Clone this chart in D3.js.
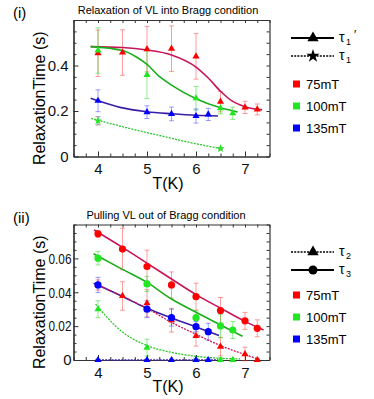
<!DOCTYPE html>
<html>
<head>
<meta charset="utf-8">
<script src="https://cdn.jsdelivr.net/npm/d3@7"></script>
<style>
  body { margin: 0; background: #fff; }
  svg { font-family: "Liberation Sans", Arial, sans-serif; }
  .axis path, .axis line { stroke: #333; }
  .axis text { font-size: 15px; fill: #111; }
</style>
</head>
<body>
<svg id="chart" width="374" height="399"></svg>
<script>
// ---- data ----
const xTicks = [4, 5, 6, 7];
const yTicksI = [0, 0.2, 0.4];
const yTicksII = [0, 0.02, 0.04, 0.06];
const fields = ["75mT", "100mT", "135mT"];

// panel (i): tau1' measurements [T, value, error]
const tau1p75 = [[4, 0.454, 0.102], [4.5, 0.457, 0.1], [5, 0.472, 0.1], [5.5, 0.474, 0.1],
                 [6, 0.44, 0.1], [6.5, 0.241, 0.045], [7, 0.216, 0.027], [7.25, 0.207, 0.024]];
const tau1p100 = [[4, 0.466, 0.1], [5, 0.359, 0.105], [6, 0.256, 0.052], [6.5, 0.212, 0.025], [6.75, 0.19, 0.027]];
const tau1p135 = [[4, 0.245, 0.048], [5, 0.195, 0.028], [5.5, 0.187, 0.03], [6, 0.178, 0.031], [6.25, 0.185, 0.027]];
// panel (i): tau1 measurements (100mT)
const tau1_100 = [[4, 0.157, 0.018], [6.5, 0.035, 0.005]];
// panel (i): fitted curves [T, value]
const fitI75 = [[3.85, 0.483], [4.5, 0.479], [5, 0.468], [5.5, 0.446], [6, 0.393], [6.25, 0.345],
                [6.5, 0.287], [6.75, 0.242], [7, 0.219], [7.35, 0.205]];
const fitI100 = [[3.85, 0.483], [4.5, 0.466], [4.8, 0.435], [5, 0.405], [5.25, 0.352], [5.5, 0.314],
                 [6, 0.254], [6.5, 0.214], [6.85, 0.196]];
const fitI135 = [[3.85, 0.256], [4, 0.245], [4.45, 0.216], [5, 0.197], [5.5, 0.188], [6, 0.181], [6.45, 0.178]];
const fitTau1 = [[3.86, 0.168], [4.5, 0.131], [5.2, 0.095], [5.8, 0.065], [6.5, 0.035]];

// panel (ii): tau3 measurements [T, value, error]
const tau3_75 = [[4, 0.0745, 0.002], [4.5, 0.0655, 0.0123], [5, 0.0552, 0.0097], [5.5, 0.0443, 0.0077],
                 [6, 0.0374, 0.008], [6.5, 0.0292, 0.0077], [7, 0.0231, 0.005], [7.25, 0.0187, 0.005]];
const tau3_100 = [[4, 0.0601, 0.004], [5, 0.0449, 0.0045], [6, 0.025, 0.004], [6.5, 0.0201, 0.007], [6.75, 0.0177, 0.005]];
const tau3_135 = [[4, 0.0443, 0.0045], [5, 0.03, 0.005], [5.5, 0.025, 0.005], [6, 0.0197, 0.003], [6.25, 0.0167, 0.005]];
// panel (ii): tau2 measurements
const tau2_75 = [[4, 0.0443, 0.003], [4.5, 0.0378, 0.0084], [5, 0.0335, 0.008], [5.5, 0.0235, 0.007],
                 [6, 0.0142, 0.006], [6.5, 0.0079, 0.0055], [7, 0.0035, 0.004], [7.25, 0, 0.001]];
const tau2_100 = [[4, 0.03, 0.005], [5, 0.0073, 0.005], [6, 0, 0.001], [6.5, 0, 0.001], [6.75, 0, 0.001]];
const tau2_135 = [[4, 0, 0.0005], [5, 0, 0.0005], [5.5, 0, 0.0005], [6, 0, 0.0005], [6.25, 0, 0.0005]];
// panel (ii): fits
const fitT3_75 = [[3.92, 0.0768], [4.5, 0.0665], [5, 0.0572], [5.5, 0.0478], [6, 0.0386], [6.5, 0.0306], [7, 0.0228], [7.38, 0.0177]];
const fitT3_100 = [[3.91, 0.0627], [4.5, 0.0535], [5, 0.0458], [5.5, 0.036], [6, 0.0282], [6.5, 0.0207], [6.95, 0.014]];
const fitT3_135 = [[3.91, 0.0453], [4.5, 0.0375], [5, 0.0305], [5.5, 0.0248], [6, 0.0195], [6.47, 0.0145]];
const fitT2_75 = [[3.95, 0.045], [4.5, 0.0375], [5, 0.0305], [5.5, 0.0222], [6, 0.0152], [6.5, 0.0085], [7, 0.0032], [7.32, 0]];
const fitT2_100 = [[3.95, 0.033], [4.5, 0.0165], [5, 0.0085], [5.5, 0.0045], [6, 0.0022], [6.5, 0.001], [6.9, 0.0006]];
const fitT2_135 = [[3.95, 0], [6.45, 0]];

// ---- styling ----
const col = {
  red: "#ff0000", green: "#22e622", blue: "#0000ff",
  redErr: "rgba(255,40,40,0.45)", greenErr: "rgba(30,220,30,0.5)", blueErr: "rgba(40,40,255,0.45)",
  redFit: "#c8155a", greenFit: "#1aae1a", blueFit: "#3a1fa6", greenDot: "#2cc42c"
};
const tri = d3.symbol(d3.symbolTriangle).size(22);
const star = d3.symbol(d3.symbolStar).size(22);

const svg = d3.select("#chart");
const x = d3.scaleLinear().domain([3.5, 7.5]).range([73.5, 269.5]);

function drawPanel(p) {
  const y = d3.scaleLinear().domain([0, p.yMax]).range([p.bottom, p.top]);
  const g = svg.append("g");

  // frame with inward ticks on four sides
  const xMinor = d3.range(3.5, 7.51, 0.25).filter(v => !xTicks.includes(v));
  const yMinor = d3.range(0, p.yMax + 1e-9, p.yStep).map(v => +v.toFixed(4)).filter(v => !p.yTicks.includes(v));

  g.append("g").attr("class", "axis").attr("transform", `translate(0,${p.bottom})`)
    .call(d3.axisBottom(x).tickValues(xMinor).tickSize(-3).tickSizeOuter(0).tickFormat(""));
  g.append("g").attr("class", "axis").attr("transform", `translate(0,${p.bottom})`)
    .call(d3.axisBottom(x).tickValues(xTicks).tickSize(-5).tickSizeOuter(0).tickPadding(7).tickFormat(d3.format("d")));
  g.append("g").attr("class", "axis").attr("transform", `translate(0,${p.top})`)
    .call(d3.axisTop(x).tickValues(xMinor.concat(xTicks)).tickSize(-3).tickSizeOuter(0).tickFormat(""));
  g.append("g").attr("class", "axis").attr("transform", `translate(${x.range()[0]},0)`)
    .call(d3.axisLeft(y).tickValues(yMinor).tickSize(-3).tickSizeOuter(0).tickFormat(""));
  const yAx = g.append("g").attr("class", "axis").attr("transform", `translate(${x.range()[0]},0)`)
    .call(d3.axisLeft(y).tickValues(p.yTicks).tickSize(-5).tickSizeOuter(0).tickPadding(p.yPad)
      .tickFormat(d => d === 0 ? "0" : String(d)));
  g.append("g").attr("class", "axis").attr("transform", `translate(${x.range()[1]},0)`)
    .call(d3.axisRight(y).tickValues(yMinor.concat(p.yTicks)).tickSize(-3).tickSizeOuter(0).tickFormat(""));
  g.selectAll(".axis .domain").attr("stroke-width", 1.2);
  // the lower panel's tick labels are squeezed narrower in the original
  if (p.yLabelWidth) yAx.selectAll("text").filter(d => d !== 0)
    .attr("textLength", p.yLabelWidth).attr("lengthAdjust", "spacingAndGlyphs");

  // titles and labels
  g.append("text").attr("x", 13).attr("y", p.top - 2).style("font-size", "15px").text(p.tag);
  g.append("text").attr("x", p.titleX).attr("y", p.top - 6).attr("text-anchor", "middle")
    .style("font-size", "11px").text(p.title);
  g.append("text").attr("transform", `translate(45,${(p.top + p.bottom) / 2 + 10}) rotate(-90)`)
    .attr("text-anchor", "middle").style("font-size", "16px").text("RelaxationTime (s)");
  g.append("text").attr("x", 168).attr("y", p.bottom + 32).attr("text-anchor", "middle")
    .style("font-size", "16px").text("T(K)");

  // error bars
  const eb = g.append("g");
  p.points.forEach(s => {
    const e = eb.selectAll(null).data(s.pts).join("g").attr("stroke", s.err).attr("stroke-width", 1);
    e.append("line").attr("x1", d => x(d[0])).attr("x2", d => x(d[0]))
      .attr("y1", d => y(d[1] - d[2])).attr("y2", d => y(d[1] + d[2]));
    e.append("line").attr("x1", d => x(d[0]) - 2.5).attr("x2", d => x(d[0]) + 2.5)
      .attr("y1", d => y(d[1] + d[2])).attr("y2", d => y(d[1] + d[2]));
    e.append("line").attr("x1", d => x(d[0]) - 2.5).attr("x2", d => x(d[0]) + 2.5)
      .attr("y1", d => y(d[1] - d[2])).attr("y2", d => y(d[1] - d[2]));
  });

  // fitted curves
  const line = d3.line().x(d => x(d[0])).y(d => y(d[1])).curve(d3.curveMonotoneX);
  p.lines.forEach(l => {
    g.append("path").datum(l.pts).attr("d", line).attr("fill", "none")
      .attr("stroke", l.color).attr("stroke-width", l.dash ? 1.3 : 1.6)
      .attr("stroke-dasharray", l.dash || null);
  });

  // markers
  p.points.forEach(s => {
    const m = g.append("g").attr("fill", s.color);
    if (s.shape === "circle") {
      m.selectAll("circle").data(s.pts).join("circle")
        .attr("cx", d => x(d[0])).attr("cy", d => y(d[1])).attr("r", 3.6);
    } else {
      m.selectAll("path").data(s.pts).join("path")
        .attr("transform", d => `translate(${x(d[0])},${y(d[1])})`)
        .attr("d", s.shape === "star" ? star : tri);
    }
  });

  // legend
  const lg = g.append("g");
  p.legend.forEach((k, i) => {
    const ly = p.legendY[i];
    lg.append("line").attr("x1", 291).attr("x2", 334).attr("y1", ly).attr("y2", ly)
      .attr("stroke", "#000").attr("stroke-width", k.dash ? 1.3 : 2).attr("stroke-dasharray", k.dash || null);
    if (k.shape === "circle") lg.append("circle").attr("cx", 313).attr("cy", ly).attr("r", 4.5);
    else lg.append("path").attr("transform", `translate(313,${ly})`)
      .attr("d", d3.symbol(k.shape === "star" ? d3.symbolStar : d3.symbolTriangle).size(55));
    lg.append("text").attr("x", 339).attr("y", ly + 4).style("font-size", "14px").text("τ");
    lg.append("text").attr("x", 346).attr("y", ly + 7).style("font-size", "9px").text(k.sub);
    if (k.prime) lg.append("text").attr("x", 354).attr("y", ly + 1).style("font-size", "12px").text("′");
  });
  [col.red, col.green, col.blue].forEach((c, i) => {
    const ly = p.squareY[i];
    lg.append("rect").attr("x", 293).attr("y", ly - 3.5).attr("width", 7).attr("height", 7).attr("fill", c);
    lg.append("text").attr("x", 306).attr("y", ly + 5).style("font-size", "13px").text(fields[i]);
  });
}

drawPanel({
  tag: "(i)", title: "Relaxation of VL into Bragg condition", titleX: 168,
  top: 20, bottom: 156.5, yMax: 0.6, yTicks: yTicksI, yStep: 0.05, yPad: 5,
  lines: [
    { pts: fitI75, color: col.redFit },
    { pts: fitI100, color: col.greenFit },
    { pts: fitI135, color: col.blueFit },
    { pts: fitTau1, color: col.greenDot, dash: "2,1.2" }
  ],
  points: [
    { pts: tau1p75, color: col.red, err: col.redErr, shape: "tri" },
    { pts: tau1p100, color: col.green, err: col.greenErr, shape: "tri" },
    { pts: tau1p135, color: col.blue, err: col.blueErr, shape: "tri" },
    { pts: tau1_100, color: col.green, err: "rgba(60,60,60,0.5)", shape: "star" }
  ],
  legend: [{ sub: "1", prime: true }, { sub: "1", dash: "2,1.2", shape: "star" }],
  legendY: [38, 56], squareY: [84, 106, 128]
});

drawPanel({
  tag: "(ii)", title: "Pulling VL out of Bragg condition", titleX: 166,
  top: 224.5, bottom: 360, yMax: 0.08, yTicks: yTicksII, yStep: 0.005, yPad: 2, yLabelWidth: 23,
  lines: [
    { pts: fitT3_75, color: col.redFit },
    { pts: fitT3_100, color: col.greenFit },
    { pts: fitT3_135, color: col.blueFit },
    { pts: fitT2_75, color: col.redFit, dash: "2,1.2" },
    { pts: fitT2_100, color: col.greenDot, dash: "2,1.2" },
    { pts: fitT2_135, color: col.blueFit, dash: "2,1.2" }
  ],
  points: [
    { pts: tau2_75, color: col.red, err: col.redErr, shape: "tri" },
    { pts: tau2_100, color: col.green, err: col.greenErr, shape: "tri" },
    { pts: tau2_135, color: col.blue, err: col.blueErr, shape: "tri" },
    { pts: tau3_75, color: col.red, err: col.redErr, shape: "circle" },
    { pts: tau3_100, color: col.green, err: col.greenErr, shape: "circle" },
    { pts: tau3_135, color: col.blue, err: col.blueErr, shape: "circle" }
  ],
  legend: [{ sub: "2", dash: "2,1.2" }, { sub: "3", shape: "circle" }],
  legendY: [252, 270], squareY: [295, 317, 339]
});
</script>
</body>
</html>
